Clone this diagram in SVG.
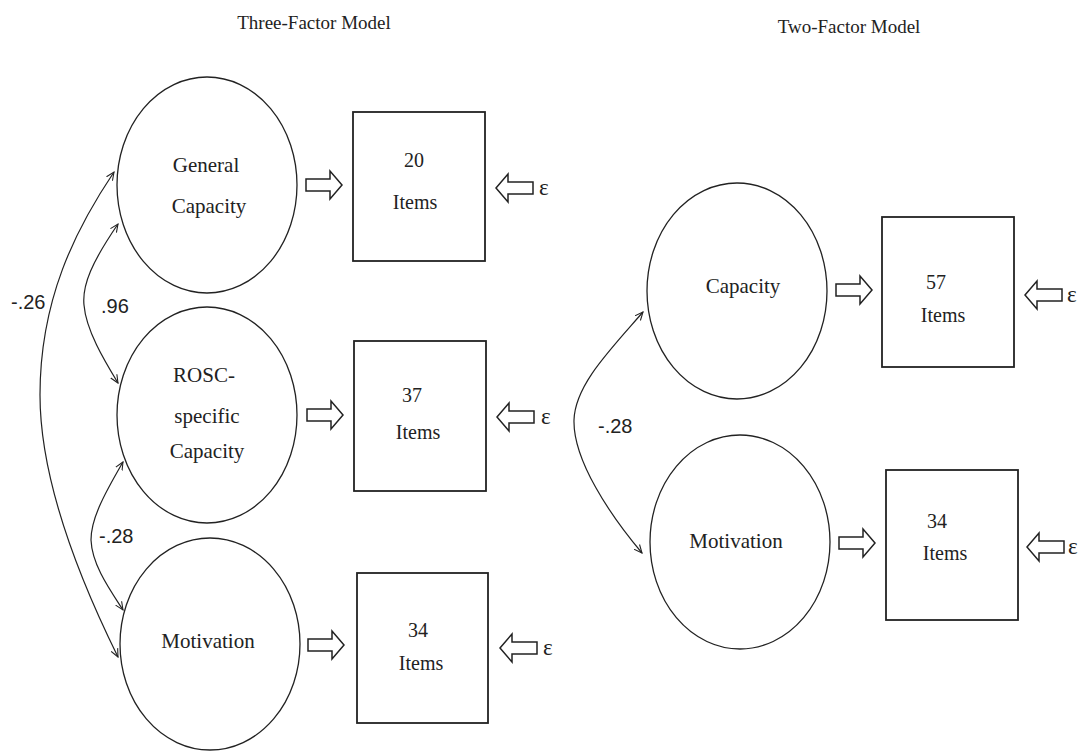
<svg xmlns="http://www.w3.org/2000/svg" width="1088" height="755" viewBox="0 0 1088 755">
<style>
  .bg{fill:#fff}
  .lat{fill:#fff;stroke:#222;stroke-width:1.3}
  .box{fill:#fff;stroke:#222;stroke-width:1.8}
  .blk{fill:#fff;stroke:#222;stroke-width:1.5;stroke-linejoin:miter}
  .con{fill:none;stroke:#222;stroke-width:1.2}
  text{font-family:"Liberation Serif","Times New Roman",serif;fill:#222}
  text.t{text-anchor:middle}
  text.lt{font-size:21px}
  text.bt{font-size:20px}
  text.ttl{font-size:19px}
  text.eps{font-size:23px}
  text.num{font-family:"Liberation Sans",Arial,sans-serif;font-size:20px}
</style>
<defs>
  <marker id="ah" viewBox="0 0 10 10" refX="9" refY="5" markerWidth="9" markerHeight="9" markerUnits="userSpaceOnUse" orient="auto-start-reverse">
    <path d="M0,1 L9,5 L0,9" fill="none" stroke="#222" stroke-width="1.2"/>
  </marker>
  <path id="rArrow" class="blk" d="M0,-6 H24 V-14 L36,0 L24,14 V6 H0 Z"/>
  <path id="lArrow" class="blk" d="M0,0 L12,-14 V-6 H37 V6 H12 V14 Z"/>
</defs>
<rect class="bg" x="0" y="0" width="1088" height="755"/>

<text class="t ttl" x="314" y="29" font-family="Liberation Serif, serif">Three-Factor Model</text>
<text class="t ttl" x="849" y="33" font-family="Liberation Serif, serif">Two-Factor Model</text>

<g id="connectors">
  <path class="con" d="M114,172 C75,230 40,300 40,395 C40,480 80,580 118,657" marker-start="url(#ah)" marker-end="url(#ah)"/>
  <path class="con" d="M118,224 C92,262 82,285 84,305 C86,330 104,360 118,383" marker-start="url(#ah)" marker-end="url(#ah)"/>
  <path class="con" d="M123,462 C102,498 91,520 91,540 C92,565 110,590 123,610" marker-start="url(#ah)" marker-end="url(#ah)"/>
  <path class="con" d="M643,312 C610,350 575,385 574,420 C573,460 610,515 642,553" marker-start="url(#ah)" marker-end="url(#ah)"/>
  <text class="num" x="11" y="309">-.26</text>
  <text class="num" x="101" y="313">.96</text>
  <text class="num" x="99" y="543">-.28</text>
  <text class="num" x="598" y="433">-.28</text>
  <use href="#rArrow" x="306" y="185"/>
  <use href="#rArrow" x="307" y="415"/>
  <use href="#rArrow" x="308" y="645"/>
  <use href="#rArrow" x="836" y="290"/>
  <use href="#rArrow" x="839" y="543"/>
</g>

<g id="gen-capacity" font-family="Liberation Serif, serif">
  <ellipse class="lat" cx="207" cy="185" rx="90" ry="108"/>
  <text class="t lt" x="206" y="172">General</text>
  <text class="t lt" x="209" y="213">Capacity</text>
</g>
<g id="rosc-capacity" font-family="Liberation Serif, serif">
  <ellipse class="lat" cx="207" cy="415" rx="90" ry="108"/>
  <text class="t lt" x="204" y="382">ROSC-</text>
  <text class="t lt" x="207" y="423">specific</text>
  <text class="t lt" x="207" y="458">Capacity</text>
</g>
<g id="motivation-3" font-family="Liberation Serif, serif">
  <ellipse class="lat" cx="210" cy="644" rx="90" ry="106"/>
  <text class="t lt" x="208" y="648">Motivation</text>
</g>

<g id="items-20" font-family="Liberation Serif, serif">
  <rect class="box" x="353" y="112" width="132" height="149"/>
  <text class="t bt" x="414" y="167">20</text>
  <text class="t bt" x="415" y="209">Items</text>
</g>
<g id="items-37" font-family="Liberation Serif, serif">
  <rect class="box" x="354" y="341" width="132" height="150"/>
  <text class="t bt" x="412" y="402">37</text>
  <text class="t bt" x="418" y="439">Items</text>
</g>
<g id="items-34a" font-family="Liberation Serif, serif">
  <rect class="box" x="357" y="573" width="131" height="150"/>
  <text class="t bt" x="418" y="637">34</text>
  <text class="t bt" x="421" y="670">Items</text>
</g>

<g id="err-1"><use href="#lArrow" x="496" y="188"/><text class="eps" x="539" y="195">ε</text></g>
<g id="err-2"><use href="#lArrow" x="497" y="417"/><text class="eps" x="541" y="424">ε</text></g>
<g id="err-3"><use href="#lArrow" x="500" y="648"/><text class="eps" x="543" y="655">ε</text></g>

<g id="capacity" font-family="Liberation Serif, serif">
  <ellipse class="lat" cx="737" cy="291" rx="90" ry="108"/>
  <text class="t lt" x="743" y="293">Capacity</text>
</g>
<g id="motivation-2" font-family="Liberation Serif, serif">
  <ellipse class="lat" cx="740" cy="542" rx="90" ry="107"/>
  <text class="t lt" x="736" y="548">Motivation</text>
</g>
<g id="items-57" font-family="Liberation Serif, serif">
  <rect class="box" x="882" y="217" width="132" height="150"/>
  <text class="t bt" x="936" y="289">57</text>
  <text class="t bt" x="943" y="322">Items</text>
</g>
<g id="items-34b" font-family="Liberation Serif, serif">
  <rect class="box" x="886" y="470" width="132" height="150"/>
  <text class="t bt" x="937" y="528">34</text>
  <text class="t bt" x="945" y="560">Items</text>
</g>
<g id="err-4"><use href="#lArrow" x="1025" y="295"/><text class="eps" x="1067" y="302">ε</text></g>
<g id="err-5"><use href="#lArrow" x="1027" y="547"/><text class="eps" x="1068" y="554">ε</text></g>
</svg>
